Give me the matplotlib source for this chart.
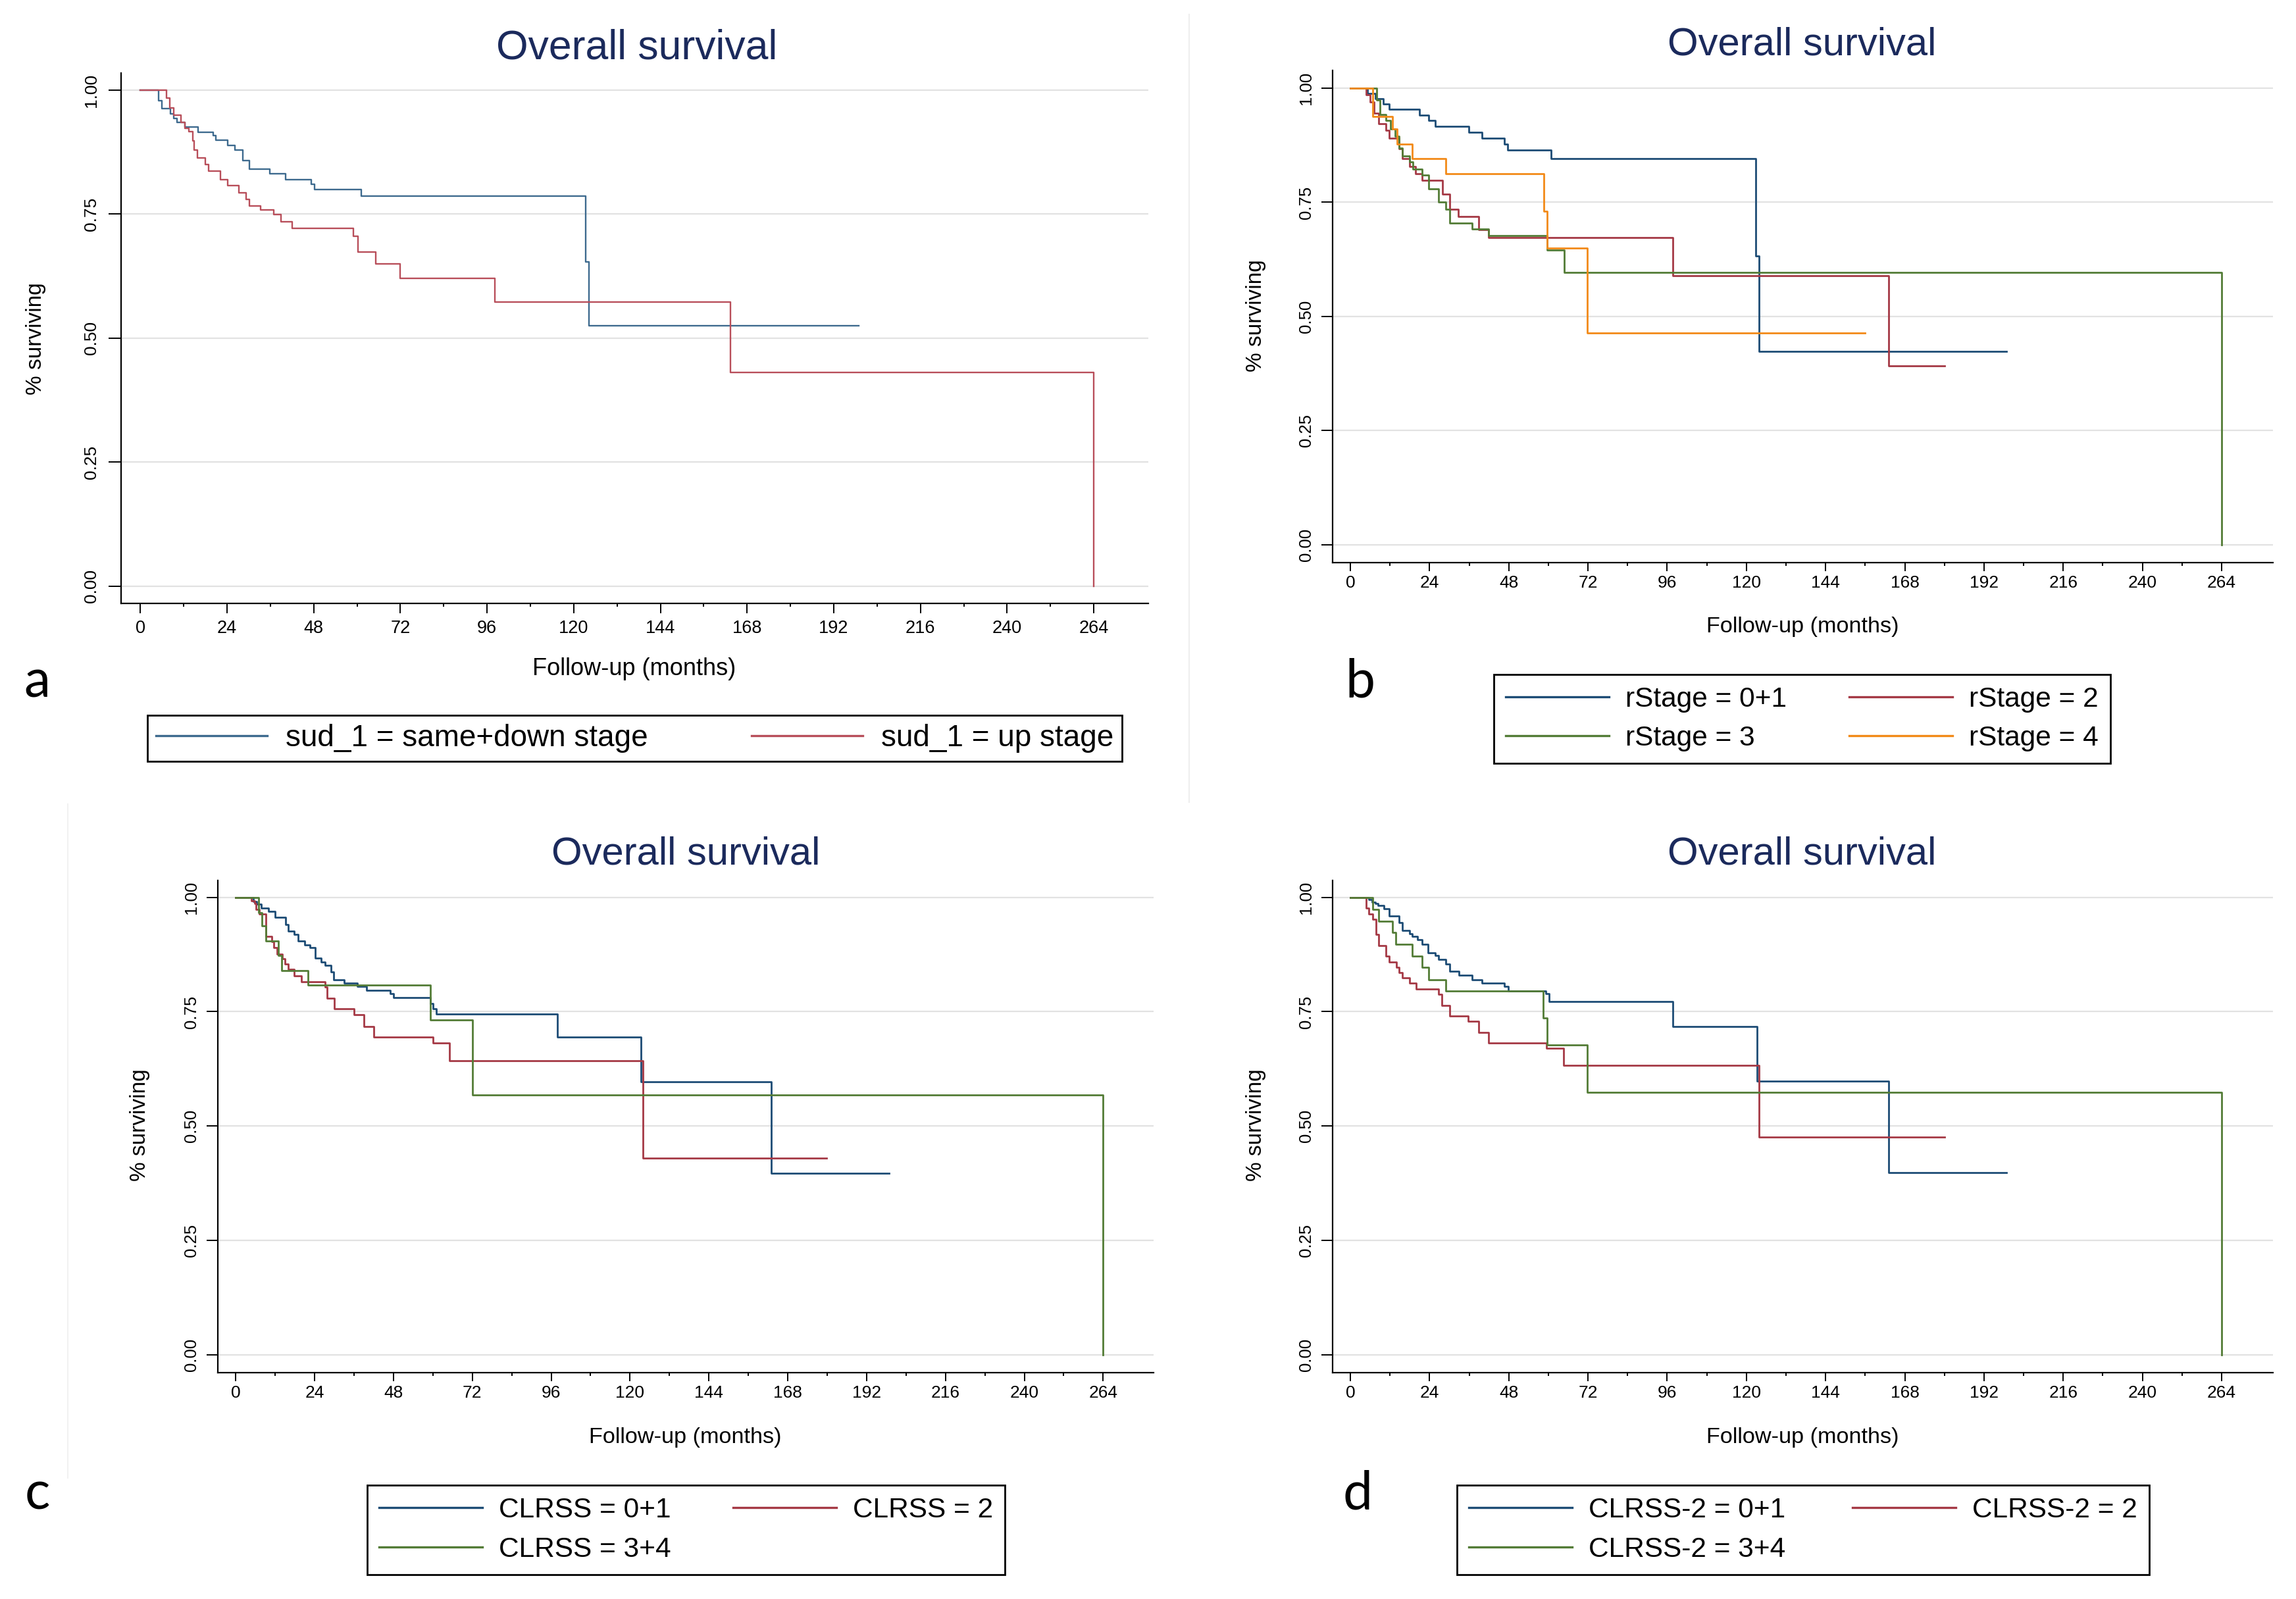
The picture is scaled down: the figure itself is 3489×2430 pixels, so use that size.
import matplotlib
matplotlib.use('Agg')
import matplotlib.pyplot as plt
from matplotlib.lines import Line2D

# ---------------- data (months, survival proportion) ----------------
a_same_t = [0, 5.0, 6.0, 8.3, 9.3, 10.2, 12.4, 16.0, 20.1, 20.9, 24.1, 26.2, 28.3, 30.2, 35.9, 40.2, 47.3, 48.2, 61.2, 123.3, 124.3, 199]
a_same_s = [1, 0.979, 0.963, 0.952, 0.943, 0.935, 0.926, 0.915, 0.908, 0.899, 0.889, 0.879, 0.858, 0.841, 0.831, 0.820, 0.810, 0.800, 0.787, 0.654, 0.525, 0.525]
a_up_t = [0, 7.2, 8.2, 9.3, 11.3, 12.4, 13.5, 14.5, 14.9, 15.8, 18.0, 18.9, 22.1, 24.1, 27.3, 29.3, 30.1, 33.3, 36.9, 39.0, 42.1, 59.0, 60.2, 65.2, 71.9, 98.1, 163.4, 264]
a_up_s = [1, 0.984, 0.964, 0.950, 0.935, 0.923, 0.916, 0.898, 0.879, 0.864, 0.850, 0.837, 0.820, 0.807, 0.793, 0.780, 0.767, 0.759, 0.749, 0.735, 0.722, 0.706, 0.674, 0.650, 0.620, 0.573, 0.431, 0.0]

b_s01_t = [0, 5.1, 7.6, 9.9, 11.8, 21.0, 23.8, 25.7, 35.9, 39.8, 46.7, 47.7, 60.8, 122.8, 123.9, 198.9]
b_s01_s = [1, 0.989, 0.977, 0.965, 0.954, 0.941, 0.930, 0.917, 0.904, 0.890, 0.878, 0.864, 0.846, 0.633, 0.423, 0.423]
b_s2_t = [0, 4.7, 6.0, 7.2, 8.6, 10.8, 11.7, 14.7, 15.8, 17.9, 19.7, 21.8, 27.9, 30.0, 32.7, 38.8, 41.8, 97.7, 163.1, 180]
b_s2_s = [1, 0.986, 0.970, 0.945, 0.922, 0.907, 0.891, 0.868, 0.845, 0.828, 0.813, 0.798, 0.768, 0.734, 0.719, 0.690, 0.672, 0.589, 0.391, 0.391]
b_s3_t = [0, 7.9, 9.0, 10.8, 12.2, 13.6, 14.7, 15.8, 17.9, 19.0, 21.8, 23.8, 26.7, 28.9, 30.0, 36.8, 41.8, 59.6, 64.7, 264]
b_s3_s = [1, 0.974, 0.943, 0.930, 0.911, 0.895, 0.869, 0.852, 0.838, 0.823, 0.810, 0.780, 0.750, 0.734, 0.705, 0.691, 0.677, 0.645, 0.596, 0.0]
b_s4_t = [0, 6.7, 12.8, 14.1, 18.8, 28.8, 58.7, 59.7, 71.7, 156]
b_s4_s = [1, 0.938, 0.911, 0.877, 0.845, 0.813, 0.731, 0.650, 0.464, 0.464]

c_01_t = [0, 5.3, 6.4, 7.8, 9.9, 12.0, 15.1, 16.0, 17.8, 18.9, 21.0, 22.5, 24.1, 26.0, 27.1, 28.9, 29.8, 33.0, 37.0, 39.8, 47.1, 48.0, 59.3, 60.0, 61.1, 97.9, 123.3, 163.0, 198.9]
c_01_s = [1, 0.991, 0.985, 0.977, 0.970, 0.956, 0.940, 0.926, 0.919, 0.904, 0.896, 0.890, 0.867, 0.859, 0.852, 0.837, 0.820, 0.812, 0.805, 0.797, 0.789, 0.781, 0.768, 0.756, 0.745, 0.695, 0.596, 0.397, 0.397]
c_2_t = [0, 4.8, 5.7, 6.2, 7.1, 9.2, 11.0, 11.6, 12.5, 14.2, 15.0, 16.0, 17.8, 20.0, 27.1, 27.8, 30.0, 36.1, 39.1, 42.0, 60.0, 65.0, 123.9, 179.8]
c_2_s = [1, 0.992, 0.986, 0.974, 0.964, 0.914, 0.903, 0.890, 0.876, 0.866, 0.854, 0.842, 0.828, 0.816, 0.804, 0.780, 0.756, 0.744, 0.718, 0.694, 0.681, 0.643, 0.430, 0.430]
c_34_t = [0, 6.9, 7.9, 9.1, 13.0, 13.9, 22.0, 59.2, 72.0, 264]
c_34_s = [1, 0.967, 0.938, 0.905, 0.873, 0.840, 0.808, 0.732, 0.568, 0.0]

d_01_t = [0, 5.6, 6.5, 7.6, 8.4, 10.1, 11.8, 14.7, 15.8, 17.9, 18.8, 20.4, 21.8, 23.6, 25.7, 26.8, 28.9, 30.0, 32.9, 36.8, 39.8, 46.7, 47.8, 59.2, 60.3, 97.7, 123.3, 163.1, 198.9]
d_01_s = [1, 0.995, 0.990, 0.986, 0.982, 0.975, 0.959, 0.945, 0.928, 0.921, 0.914, 0.908, 0.897, 0.879, 0.873, 0.864, 0.854, 0.838, 0.829, 0.820, 0.812, 0.805, 0.795, 0.789, 0.772, 0.717, 0.598, 0.398, 0.398]
d_2_t = [0, 4.7, 5.6, 6.7, 7.7, 8.6, 10.8, 11.8, 14.0, 14.7, 15.8, 17.9, 20.0, 26.8, 27.7, 30.0, 35.7, 38.8, 41.8, 59.4, 64.5, 123.9, 180]
d_2_s = [1, 0.976, 0.964, 0.952, 0.919, 0.894, 0.871, 0.859, 0.847, 0.835, 0.824, 0.812, 0.800, 0.788, 0.764, 0.741, 0.729, 0.705, 0.681, 0.670, 0.633, 0.475, 0.475]
d_34_t = [0, 6.7, 8.6, 12.7, 13.8, 18.8, 21.8, 23.8, 28.9, 58.5, 59.6, 71.7, 264]
d_34_s = [1, 0.974, 0.948, 0.923, 0.897, 0.872, 0.847, 0.820, 0.795, 0.736, 0.677, 0.573, 0.0]

x_ticks = [0, 24, 48, 72, 96, 120, 144, 168, 192, 216, 240, 264]
y_ticks = [0.0, 0.25, 0.5, 0.75, 1.0]
y_ticklabels = ['0.00', '0.25', '0.50', '0.75', '1.00']

title_text = 'Overall survival'
xlab = 'Follow-up (months)'
ylab = '% surviving'

labels_a = ['sud_1 = same+down stage', 'sud_1 = up stage']
labels_b = ['rStage = 0+1', 'rStage = 2', 'rStage = 3', 'rStage = 4']
labels_c = ['CLRSS = 0+1', 'CLRSS = 2', 'CLRSS = 3+4']
labels_d = ['CLRSS-2 = 0+1', 'CLRSS-2 = 2', 'CLRSS-2 = 3+4']

# ---------------- style ----------------
FONT = ['Liberation Sans', 'DejaVu Sans']
plt.rcParams['font.family'] = FONT
NAVY = '#1b2a5c'
BLUE_A, RED_A = '#3d6a8e', '#b84e5a'
BLUE, RED, GREEN, ORANGE = '#1d4c75', '#a53945', '#537c36', '#f28a18'
GRID = '#e2e2e2'

W, H = 3489, 2430
fig = plt.figure(figsize=(W / 100, H / 100), dpi=100)
fig.patch.set_facecolor('white')


def fx(px):
    return px / W


def fy(py):
    return 1 - py / H


def setup_axes(rect, xlim, ylim, xlen, xpad, ylen, ypad, lsize):
    ax = fig.add_axes(rect)
    ax.set_xlim(*xlim)
    ax.set_ylim(*ylim)
    for s in ['top', 'right']:
        ax.spines[s].set_visible(False)
    for s in ['left', 'bottom']:
        ax.spines[s].set_linewidth(1.6)
        ax.spines[s].set_color('black')
    ax.set_xticks(x_ticks)
    ax.set_xticks([v + 12 for v in x_ticks[:-1]], minor=True)
    ax.set_yticks(y_ticks)
    ax.set_yticklabels(y_ticklabels, rotation=90, va='center')
    ax.tick_params(axis='x', which='major', length=xlen, width=1.4, pad=xpad, labelsize=lsize)
    ax.tick_params(axis='x', which='minor', length=3.5, width=1.4)
    ax.tick_params(axis='y', which='major', length=ylen, width=1.4, pad=ypad, labelsize=lsize - 0.5)
    for yv in y_ticks:
        ax.axhline(yv, color=GRID, lw=1.6, zorder=0)
    return ax


def row_major(items, ncol=2):
    # matplotlib fills legend columns top-to-bottom; reorder so entries read row by row
    nrow = -(-len(items) // ncol)
    rows = [items[i * ncol:(i + 1) * ncol] for i in range(nrow)]
    out = []
    for c in range(ncol):
        for r in rows:
            if c < len(r):
                out.append(r[c])
    return out


def add_legend(ax, handles, labels, box, fsize, bpad, lspace):
    x0, y0, x1, y1 = box
    leg = ax.legend(row_major(handles), row_major(labels), ncol=2, mode='expand', loc='center',
                    bbox_to_anchor=(fx(x0), fy(y1), fx(x1) - fx(x0), fy(y0) - fy(y1)),
                    bbox_transform=fig.transFigure, fontsize=fsize, frameon=True,
                    fancybox=False, edgecolor='black', framealpha=1, borderaxespad=0,
                    handlelength=3.7, handletextpad=0.6, borderpad=bpad, labelspacing=lspace,
                    columnspacing=1.0)
    leg.get_frame().set_linewidth(2.0)
    for line in leg.get_lines():
        line.set_linewidth(2.4)
    return leg


# ---------------- panel a ----------------
axa = setup_axes([0.05265, 0.6228, 0.4475, 0.3315], (-5.4, 279.1), (-0.0345, 1.0345),
                 10.8, 7.6, 14, 9.6, 19.5)
la1, = axa.step(a_same_t, a_same_s, where='post', color=BLUE_A, lw=1.7)
la2, = axa.step(a_up_t, a_up_s, where='post', color=RED_A, lw=1.7)
fig.text(fx(968), fy(90), title_text, ha='center', va='baseline', fontsize=45, color=NAVY)
fig.text(fx(964), fy(1017), xlab, ha='center', va='center', fontsize=26)
fig.text(fx(54.5), fy(514.5), ylab, ha='center', va='center', rotation=90, fontsize=24)
add_legend(axa, [la1, la2], labels_a, (224, 1083, 1705, 1161), 33, 0.28, 0.28)

# ---------------- panel b ----------------
axb = setup_axes([0.5804, 0.648, 0.4096, 0.308], (-5.4, 279.6), (-0.040, 1.039),
                 9.4, 4.2, 12, 8.3, 19)
lb1, = axb.step(b_s01_t, b_s01_s, where='post', color=BLUE, lw=2.0)
lb2, = axb.step(b_s2_t, b_s2_s, where='post', color=RED, lw=2.0)
lb3, = axb.step(b_s3_t, b_s3_s, where='post', color=GREEN, lw=2.0)
lb4, = axb.step(b_s4_t, b_s4_s, where='post', color=ORANGE, lw=2.0)
fig.text(fx(2738), fy(83), title_text, ha='center', va='baseline', fontsize=43, color=NAVY)
fig.text(fx(2739), fy(953), xlab, ha='center', va='center', fontsize=24.7)
fig.text(fx(1908), fy(480), ylab, ha='center', va='center', rotation=90, fontsize=24)
add_legend(axb, [lb1, lb2, lb3, lb4], labels_b, (2270, 1024, 3207, 1161), 30.5, 0.42, 0.46)

# ---------------- panel c ----------------
axc = setup_axes([0.0948, 0.1417, 0.4077, 0.3077], (-5.5, 279.4), (-0.039, 1.037),
                 9.4, 4.2, 12, 8.3, 19)
lc1, = axc.step(c_01_t, c_01_s, where='post', color=BLUE, lw=2.0)
lc2, = axc.step(c_2_t, c_2_s, where='post', color=RED, lw=2.0)
lc3, = axc.step(c_34_t, c_34_s, where='post', color=GREEN, lw=2.0)
fig.text(fx(1042), fy(1314), title_text, ha='center', va='baseline', fontsize=43, color=NAVY)
fig.text(fx(1041), fy(2184.5), xlab, ha='center', va='center', fontsize=24.7)
fig.text(fx(212), fy(1710), ylab, ha='center', va='center', rotation=90, fontsize=24)
add_legend(axc, [lc1, lc2, lc3], labels_c, (558, 2256, 1527, 2394), 30.5, 0.42, 0.46)

# ---------------- panel d ----------------
axd = setup_axes([0.5804, 0.1417, 0.4096, 0.3077], (-5.4, 279.6), (-0.039, 1.037),
                 9.4, 4.2, 12, 8.3, 19)
ld1, = axd.step(d_01_t, d_01_s, where='post', color=BLUE, lw=2.0)
ld2, = axd.step(d_2_t, d_2_s, where='post', color=RED, lw=2.0)
ld3, = axd.step(d_34_t, d_34_s, where='post', color=GREEN, lw=2.0)
fig.text(fx(2738), fy(1314), title_text, ha='center', va='baseline', fontsize=43, color=NAVY)
fig.text(fx(2739), fy(2184.5), xlab, ha='center', va='center', fontsize=24.7)
fig.text(fx(1908), fy(1710), ylab, ha='center', va='center', rotation=90, fontsize=24)
add_legend(axd, [ld1, ld2, ld3], labels_d, (2214, 2256, 3266, 2394), 30.5, 0.42, 0.46)

# ---------------- panel letters ----------------
LETTER_FONT = ['Lato', 'Open Sans', 'DejaVu Sans']
for txt, x, y in [('a', 36, 1060), ('b', 2044, 1060), ('c', 38, 2293), ('d', 2041, 2293)]:
    fig.text(fx(x), fy(y), txt, ha='left', va='baseline', fontsize=58,
             family=LETTER_FONT, color='black')

# faint panel separators
fig.add_artist(Line2D([fx(1807), fx(1807)], [fy(22), fy(1219)], color='#eeeeee', lw=1.5))
fig.add_artist(Line2D([fx(103), fx(103)], [fy(1222), fy(2246)], color='#f2f2f2', lw=1.5))

fig.savefig('out.png', dpi=100, facecolor='white')
